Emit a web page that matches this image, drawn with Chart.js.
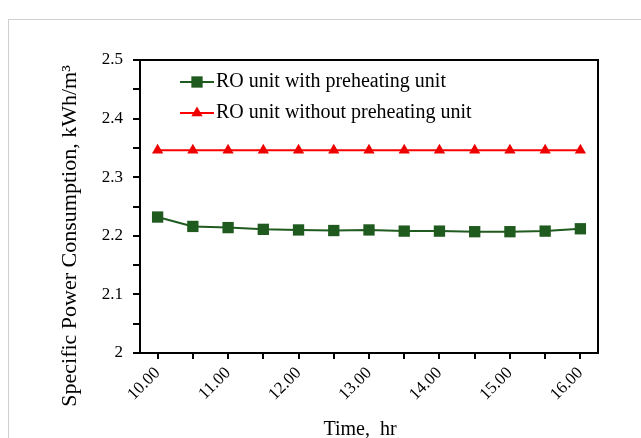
<!DOCTYPE html>
<html>
<head>
<meta charset="utf-8">
<script src="https://cdn.jsdelivr.net/npm/chart.js@4/dist/chart.umd.min.js"></script>
<style>
  html, body { margin: 0; padding: 0; background: #fff; }
  #wrap { position: relative; width: 641px; height: 438px; overflow: hidden; }
  #frame { position: absolute; left: 8px; top: 19px; width: 700px; height: 500px; border: 1px solid #cfcfcf; }
  #chart { position: absolute; left: 0; top: 0; }
</style>
</head>
<body>
<div id="wrap">
  <div id="frame"></div>
  <canvas id="chart" width="641" height="438"></canvas>
</div>
<script>
const times = ['10.00', '10.50', '11.00', '11.50', '12.00', '12.50', '13.00', '13.50', '14.00', '14.50', '15.00', '15.50', '16.00'];
const withPreheating = [2.232, 2.216, 2.214, 2.211, 2.210, 2.209, 2.210, 2.208, 2.208, 2.207, 2.207, 2.208, 2.212];
const withoutPreheating = [2.346, 2.346, 2.346, 2.346, 2.346, 2.346, 2.346, 2.346, 2.346, 2.346, 2.346, 2.346, 2.346];
const seriesNames = ['RO unit with preheating unit', 'RO unit without preheating unit'];
const yTitle = 'Specific Power Consumption, kWh/m\u00B3';
const xTitle = 'Time,  hr';

const serif = "'Liberation Serif', 'Times New Roman', serif";

// frame around the plot + axis titles + legend inside the plot
const decorations = {
  id: 'decorations',
  afterDraw(chart) {
    const { ctx, chartArea: a } = chart;
    ctx.save();
    ctx.strokeStyle = '#000';
    ctx.lineWidth = 2;
    ctx.strokeRect(a.left, a.top, a.right - a.left, a.bottom - a.top);

    ctx.fillStyle = '#000';
    ctx.font = '20px ' + serif;
    ctx.textAlign = 'center';
    ctx.textBaseline = 'alphabetic';
    ctx.fillText(xTitle, 360, 435);

    ctx.save();
    ctx.translate(76, 236);
    ctx.rotate(-Math.PI / 2);
    ctx.font = '22px ' + serif;
    ctx.fillText(yTitle, 0, 0);
    ctx.restore();

    chart.data.datasets.forEach((ds, i) => {
      const y = 82 + i * 31;
      ctx.strokeStyle = ds.borderColor;
      ctx.lineWidth = 2;
      ctx.beginPath();
      ctx.moveTo(180, y);
      ctx.lineTo(214, y);
      ctx.stroke();
      ctx.fillStyle = ds.pointBackgroundColor;
      Chart.helpers.drawPoint(ctx, { pointStyle: ds.pointStyle, radius: ds.pointRadius, borderWidth: 0 }, 197, y);
      ctx.fillStyle = '#000';
      ctx.textAlign = 'left';
      ctx.textBaseline = 'middle';
      ctx.font = '20px ' + serif;
      ctx.fillText(seriesNames[i], 216, y);
    });
    ctx.restore();
  }
};

new Chart(document.getElementById('chart'), {
  type: 'line',
  data: {
    labels: times,
    datasets: [
      {
        label: seriesNames[0],
        data: withPreheating,
        borderColor: '#1f5a1f',
        backgroundColor: '#1f5a1f',
        pointBackgroundColor: '#1f5a1f',
        pointBorderWidth: 0,
        borderWidth: 2,
        pointStyle: 'rect',
        pointRadius: 8,
        tension: 0,
      },
      {
        label: seriesNames[1],
        data: withoutPreheating,
        borderColor: '#ff0000',
        backgroundColor: '#ee0000',
        pointBackgroundColor: '#ee0000',
        pointBorderWidth: 0,
        borderWidth: 2,
        pointStyle: 'triangle',
        pointRadius: 6.5,
        tension: 0,
      },
    ],
  },
  options: {
    responsive: false,
    animation: false,
    layout: { padding: { left: 0, right: 43, top: 60, bottom: 0 } },
    plugins: {
      legend: { display: false },
      tooltip: { enabled: false },
    },
    scales: {
      x: {
        type: 'category',
        offset: true,
        afterFit: (scale) => { scale.height = 85; },
        border: { display: false },
        grid: { drawOnChartArea: false, offset: false, color: '#000', lineWidth: 2, tickLength: 6 },
        ticks: {
          autoSkip: false,
          minRotation: 45,
          maxRotation: 45,
          padding: 4,
          color: '#000',
          font: { family: serif, size: 17 },
          callback: function (value, index) {
            return index % 2 === 0 ? times[index] : '';
          },
        },
      },
      y: {
        min: 2,
        max: 2.5,
        afterFit: (scale) => { scale.width = 140; },
        border: { display: false },
        grid: { drawOnChartArea: false, color: '#000', lineWidth: 2, tickLength: 7 },
        ticks: {
          stepSize: 0.05,
          padding: 10,
          color: '#000',
          font: { family: serif, size: 17 },
          callback: function (value) {
            const v = Math.round(value * 100) / 100;
            if (Math.abs(v * 10 - Math.round(v * 10)) > 1e-6) return '';
            return v === 2 ? '2' : v.toFixed(1);
          },
        },
      },
    },
  },
  plugins: [decorations],
});
</script>
</body>
</html>
